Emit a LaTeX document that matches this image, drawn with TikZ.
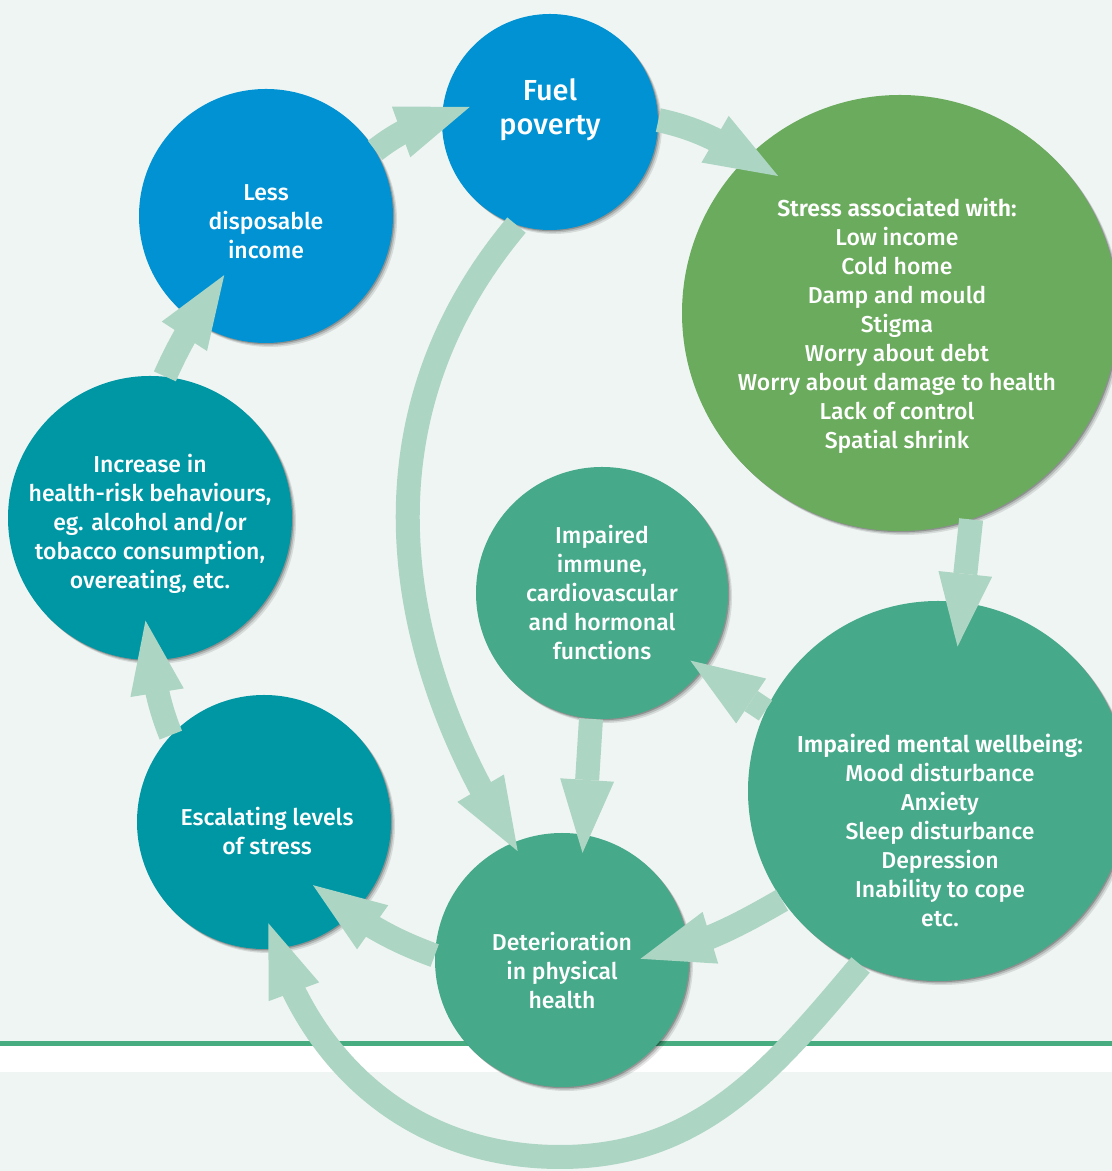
\documentclass[tikz,border=0pt]{standalone}
\usepackage{fontspec}
\setmainfont{Fira Sans}[UprightFont={* Medium},BoldFont={* SemiBold}]
\usetikzlibrary{arrows.meta,bending,shadows}
\definecolor{bgpale}{HTML}{EFF5F3}
\definecolor{fpblue}{HTML}{0092D2}
\definecolor{stressgreen}{HTML}{6BAB5D}
\definecolor{mintgreen}{HTML}{46A98A}
\definecolor{deepteal}{HTML}{0097A5}
\definecolor{arrowmint}{HTML}{ADD5C3}
\definecolor{rulegreen}{HTML}{47AC80}
\tikzset{
  softshadow/.style={
    drop shadow={shadow xshift=0.6pt,shadow yshift=-0.6pt,opacity=.22,fill=black},
    drop shadow={shadow xshift=1.3pt,shadow yshift=-1.3pt,opacity=.15,fill=black},
    drop shadow={shadow xshift=2pt,shadow yshift=-2pt,opacity=.1,fill=black}},
  bubble/.style={circle,inner sep=0pt,draw=none,minimum size=#1,softshadow},
  lbl/.style={text=white,align=center,inner sep=0pt,font=\fontsize{11.5}{14.5}\selectfont},
  flow/.style={draw=arrowmint,line width=12pt,
    -{Triangle[length=36.5pt,width=27pt,line width=0pt,flex]}},
}
\begin{document}
\begin{tikzpicture}[x=0.5pt,y=0.5pt]
\useasboundingbox (0,0) rectangle (1112,1171);
\clip (0,0) rectangle (1112,1171);
% page background, white band and green rule
\fill[bgpale] (0,0) rectangle (1112,1171);
\fill[white] (0,99) rectangle (1112,125);
\fill[rulegreen] (0,125) rectangle (1112,130);

% the eight stages of the cycle
\node[bubble=108pt,fill=fpblue] (fuel) at (550,1049) {};
\node[bubble=127pt,fill=fpblue] (less) at (266,955) {};
\node[bubble=218pt,fill=stressgreen] (stress) at (900,858) {};
\node[bubble=190pt,fill=mintgreen] (mental) at (938,380) {};
\node[bubble=126pt,fill=mintgreen] (immune) at (602,578) {};
\node[bubble=127pt,fill=mintgreen] (deter) at (562,211) {};
\node[bubble=127pt,fill=deepteal] (escal) at (264,349) {};
\node[bubble=142pt,fill=deepteal] (incr) at (150,653) {};
\coordinate (loopbot) at (560,14);

% connectors: each tip reaches a little way into the next circle
\draw[flow] (less.31) to[out=38,in=198] ([shift={(15:14.4pt)}]fuel.176);
\draw[flow] (fuel.1) to[out=-12,in=150] ([shift={(-34:18pt)}]stress.134);
\draw[flow] (stress.-71) -- ([shift={(-99:22.3pt)}]mental.82);
\draw[flow] (mental.155) -- ([shift={(146:7.6pt)}]immune.-37);
\draw[flow] (immune.-95) -- ([shift={(-95:9.2pt)}]deter.80);
\draw[flow] (fuel.-108) to[out=-130,in=123] ([shift={(-57:5pt)}]deter.113);
\draw[flow] (mental.-145) to[out=-150,in=13] ([shift={(189:24.6pt)}]deter.4);
\draw[flow] (deter.178) to[out=160,in=-37] ([shift={(139:24pt)}]escal.-48);
\draw[flow] (escal.137) to[out=112,in=-80] ([shift={(96.5:20pt)}]incr.-90);
\draw[flow] (incr.84) to[out=66,in=236] ([shift={(53:27.5pt)}]less.234);
\draw[flow] (mental.-114) to[out=-130,in=0] (loopbot)
  to[out=180,in=-75] ([shift={(104.6:13.2pt)}]escal.-85);

% labels
\node[lbl,font=\fontsize{14.5}{17}\selectfont] (fuelt) at (550,1061) {Fuel\\poverty};
\node[lbl] (lesst) at (266,949) {Less\\disposable\\income};
\node[lbl] (stresst) at (897,845) {\textbf{Stress associated with:}\\Low income\\Cold home\\Damp and mould\\Stigma\\Worry about debt\\Worry about damage to health\\Lack of control\\Spatial shrink};
\node[lbl] (mentalt) at (940,341) {\textbf{Impaired mental wellbeing:}\\Mood disturbance\\Anxiety\\Sleep disturbance\\Depression\\Inability to cope\\etc.};
\node[lbl] (immunet) at (602,578) {Impaired\\immune,\\cardiovascular\\and hormonal\\functions};
\node[lbl] (detert) at (562,200) {Deterioration\\in physical\\health};
\node[lbl] (escalt) at (267,340) {Escalating levels\\of stress};
\node[lbl] (incrt) at (150,647) {Increase in\\health-risk behaviours,\\eg. alcohol and/or\\tobacco consumption,\\overeating, etc.};
\end{tikzpicture}
\end{document}
